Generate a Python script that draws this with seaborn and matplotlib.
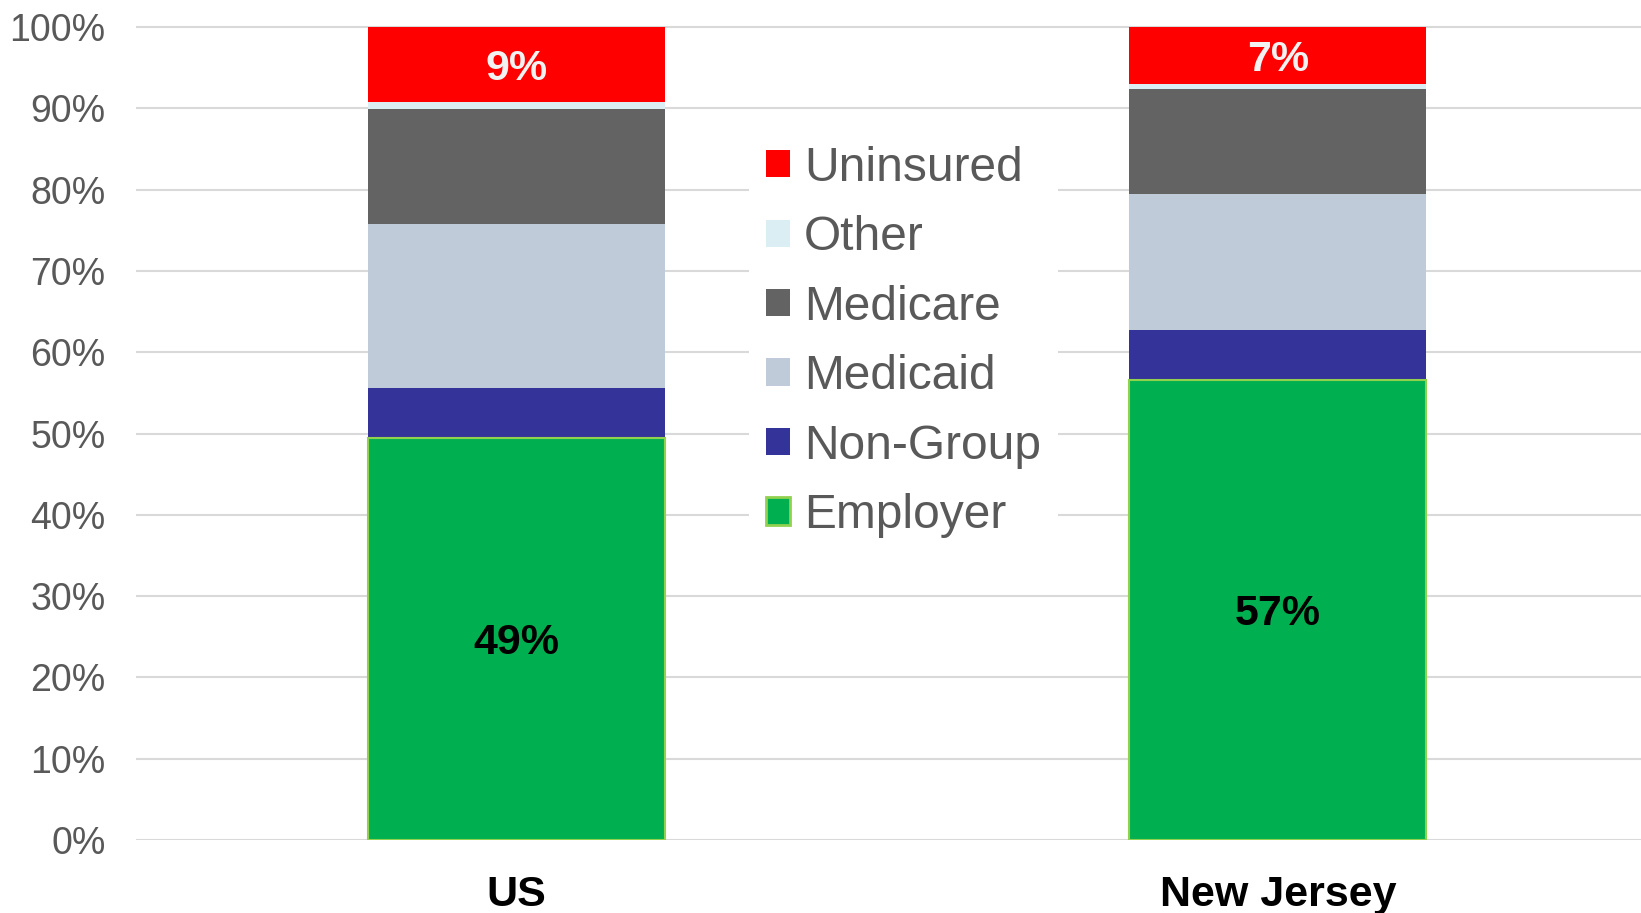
import pandas as pd
import matplotlib.pyplot as plt
import seaborn as sns
from matplotlib.patches import Patch

# Coverage shares (%)
categories = ["US", "New Jersey"]
employer = [49.4, 56.6]
non_group = [6.2, 6.1]
medicaid = [20.2, 16.8]
medicare = [14.1, 12.9]
other = [0.9, 0.6]
uninsured = [9.2, 7.0]

series_names = ["Employer", "Non-Group", "Medicaid", "Medicare", "Other", "Uninsured"]
series_colors = {
    "Employer": "#00B050",
    "Non-Group": "#333399",
    "Medicaid": "#BFCBD8",
    "Medicare": "#636363",
    "Other": "#DAEEF3",
    "Uninsured": "#FF0000",
}

df = pd.DataFrame({
    "category": categories,
    "Employer": employer,
    "Non-Group": non_group,
    "Medicaid": medicaid,
    "Medicare": medicare,
    "Other": other,
    "Uninsured": uninsured,
})
cum = df[series_names].cumsum(axis=1)

sns.set_style("white")
plt.rcParams["font.family"] = ["Liberation Sans", "DejaVu Sans"]

W, H = 1641, 913
fig = plt.figure(figsize=(W / 100, H / 100), dpi=100)
# plot area: left edge 136px, 0% at 840px, 101% at ~19px
ax = fig.add_axes([136 / W, 1 - 840 / H, 1 - 136 / W, (840 - 19) / H])

# stacked bars: draw cumulative totals from the top down so each layer covers the next
for name in reversed(series_names):
    edge = "#92D050" if name == "Employer" else "none"
    lw = 1.5 if name == "Employer" else 0
    sns.barplot(x=df["category"], y=cum[name], color=series_colors[name], saturation=1,
                width=0.39, edgecolor=edge, linewidth=lw, ax=ax, zorder=2)

# value labels for employer and uninsured
for i in range(len(categories)):
    ax.annotate(f"{round(employer[i])}%", (i, employer[i] / 2), xytext=(0, -3),
                textcoords="offset points", ha="center", va="center",
                fontsize=31, fontweight="bold", color="black", zorder=5)
    top = cum["Other"][i]
    ax.annotate(f"{round(uninsured[i])}%", (i, top + uninsured[i] / 2), xytext=(0, -3),
                textcoords="offset points", ha="center", va="center",
                fontsize=31, fontweight="bold", color="#F2F2F2", zorder=5)

ax.set_xlim(-0.5, 1.477)
ax.set_ylim(0, 101)
ax.set_yticks(range(0, 101, 10))
ax.set_yticklabels([f"{v}%" for v in range(0, 101, 10)])
ax.yaxis.grid(True, color="#D9D9D9", linewidth=1.5)
ax.set_axisbelow(True)
for s in ax.spines.values():
    s.set_visible(False)
ax.set_xlabel("")
ax.set_ylabel("")
ax.tick_params(axis="y", length=0, pad=22, labelsize=27, labelcolor="#595959")
ax.tick_params(axis="x", length=0, pad=25, labelsize=31, labelcolor="black")
for lab in ax.get_xticklabels():
    lab.set_fontweight("bold")

handles = [Patch(facecolor=series_colors[n],
                 edgecolor="#92D050" if n == "Employer" else series_colors[n],
                 linewidth=2 if n == "Employer" else 0)
           for n in reversed(series_names)]
leg = ax.legend(handles, list(reversed(series_names)), loc="upper left",
                bbox_to_anchor=(749 / W, 1 - 129 / H), bbox_transform=fig.transFigure,
                fontsize=34.5, frameon=True, framealpha=1, facecolor="white", edgecolor="none",
                fancybox=False, handlelength=0.5, handleheight=0.5, handletextpad=0.3,
                labelspacing=0.51, borderpad=0.35, borderaxespad=0)
for t in leg.get_texts():
    t.set_color("#595959")

fig.savefig("out.png", dpi=100)
